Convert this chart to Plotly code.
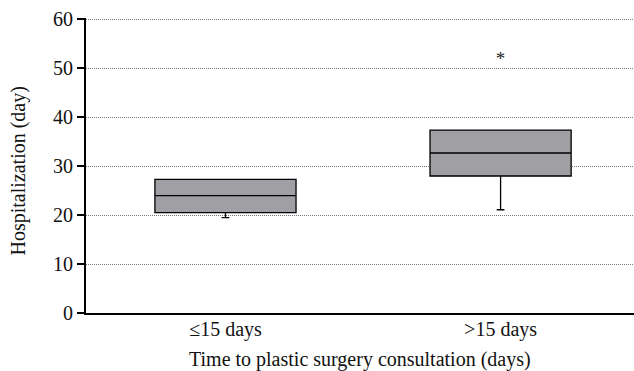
import plotly.graph_objects as go

categories = ["≤15 days", ">15 days"]
q1 = [20.5, 28.0]
median = [24.0, 32.7]
q3 = [27.3, 37.4]
lower_whisker = [19.5, 21.1]
upper_whisker = [27.3, 37.4]
outlier_cat = [">15 days"]
outlier_val = [51.6]
y_ticks = [0, 10, 20, 30, 40, 50, 60]

FONT = "Liberation Serif"

fig = go.Figure()
fig.add_trace(go.Box(
    x=categories, q1=q1, median=median, q3=q3,
    lowerfence=lower_whisker, upperfence=upper_whisker,
    fillcolor="#a0a0a4", line=dict(color="black", width=1.3),
    width=0.513, whiskerwidth=0.055, boxpoints=False, showlegend=False,
    hoverinfo="skip",
))
fig.add_trace(go.Scatter(
    x=outlier_cat, y=outlier_val, mode="text", text=["*"],
    textfont=dict(family=FONT, size=19, color="#222"), showlegend=False,
))

fig.update_layout(
    width=634, height=371,
    margin=dict(l=86, r=0, t=18, b=58, autoexpand=False),
    paper_bgcolor="white", plot_bgcolor="white",
    font=dict(family=FONT, size=20, color="#111"),
    annotations=[
        dict(text="Time to plastic surgery consultation (days)", xref="paper", yref="paper",
             x=0.5, y=0, yshift=-46, xanchor="center", yanchor="middle", showarrow=False,
             font=dict(size=20)),
        dict(text="Hospitalization (day)", xref="paper", yref="paper",
             x=0, y=0.5, xshift=-68, yshift=-6, xanchor="center", yanchor="middle", showarrow=False,
             textangle=-90, font=dict(size=20)),
    ],
)
fig.update_xaxes(
    type="category", range=[-0.507, 1.485], automargin=False,
    showline=True, linecolor="black", linewidth=2,
    showgrid=False, ticks="", tickfont=dict(size=20), ticklabelstandoff=-3,
)
fig.update_yaxes(
    range=[0, 60.3], tickvals=y_ticks, automargin=False,
    showline=True, linecolor="black", linewidth=2,
    ticks="outside", ticklen=7, tickwidth=2, tickcolor="black",
    showgrid=True, gridcolor="#777", griddash="1px,1px", gridwidth=1,
    zeroline=False, tickfont=dict(size=20),
)
fig.write_html("out.html", post_script="document.body.style.margin='0';",
               config={"displayModeBar": False})
